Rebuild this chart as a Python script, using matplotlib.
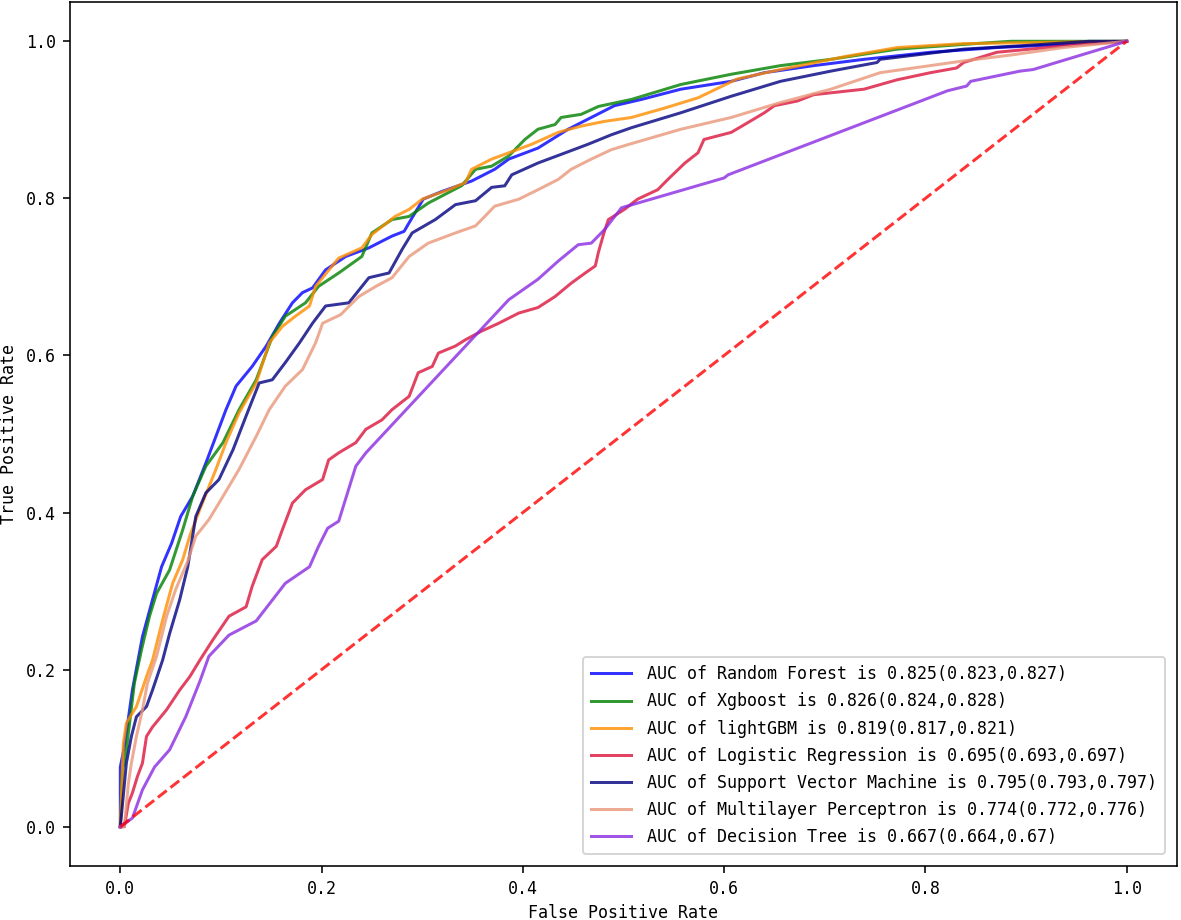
import matplotlib
matplotlib.use("Agg")
import matplotlib.pyplot as plt

# ROC points (false positive rate, true positive rate)
rf_fpr = [0, 0, 0.004, 0.012, 0.022, 0.032, 0.041, 0.051, 0.060, 0.072, 0.085, 0.095, 0.105, 0.115, 0.131,
          0.145, 0.158, 0.171, 0.181, 0.191, 0.204, 0.224, 0.247, 0.270, 0.282, 0.287, 0.301, 0.320, 0.349,
          0.372, 0.386, 0.415, 0.445, 0.468, 0.491, 0.518, 0.557, 0.607, 0.640, 0.689, 0.739, 0.805, 0.871,
          0.937, 0.980, 1.0]
rf_tpr = [0, 0.076, 0.102, 0.174, 0.242, 0.289, 0.331, 0.361, 0.395, 0.421, 0.463, 0.497, 0.531, 0.561, 0.586,
          0.612, 0.641, 0.667, 0.680, 0.686, 0.709, 0.726, 0.737, 0.752, 0.758, 0.769, 0.799, 0.809, 0.822,
          0.837, 0.850, 0.864, 0.888, 0.903, 0.918, 0.926, 0.939, 0.949, 0.960, 0.969, 0.977, 0.986, 0.992,
          0.996, 0.999, 1.0]

xgb_fpr = [0, 0.002, 0.006, 0.014, 0.021, 0.029, 0.036, 0.049, 0.062, 0.072, 0.085, 0.102, 0.118, 0.135,
           0.151, 0.164, 0.184, 0.197, 0.217, 0.240, 0.250, 0.270, 0.287, 0.306, 0.339, 0.353, 0.369, 0.386,
           0.402, 0.415, 0.432, 0.438, 0.458, 0.475, 0.508, 0.557, 0.607, 0.656, 0.706, 0.772, 0.838, 0.885, 1.0]
xgb_tpr = [0, 0.07, 0.098, 0.183, 0.225, 0.268, 0.297, 0.327, 0.378, 0.421, 0.459, 0.489, 0.531, 0.569,
           0.624, 0.650, 0.667, 0.688, 0.705, 0.726, 0.756, 0.773, 0.777, 0.794, 0.816, 0.837, 0.841, 0.854,
           0.875, 0.888, 0.894, 0.903, 0.907, 0.917, 0.926, 0.945, 0.958, 0.969, 0.977, 0.990, 0.996, 1.0, 1.0]

lgb_fpr = [0, 0.003, 0.006, 0.016, 0.026, 0.032, 0.042, 0.052, 0.062, 0.069, 0.079, 0.095, 0.105, 0.118,
           0.135, 0.148, 0.161, 0.174, 0.188, 0.194, 0.217, 0.240, 0.250, 0.273, 0.287, 0.300, 0.326, 0.343,
           0.349, 0.369, 0.386, 0.409, 0.435, 0.458, 0.481, 0.508, 0.541, 0.574, 0.613, 0.656, 0.722, 0.772,
           0.838, 0.937, 1.0]
lgb_tpr = [0, 0.106, 0.132, 0.153, 0.191, 0.212, 0.263, 0.310, 0.340, 0.370, 0.404, 0.455, 0.489, 0.527,
           0.565, 0.616, 0.637, 0.650, 0.663, 0.688, 0.724, 0.737, 0.754, 0.777, 0.786, 0.799, 0.811, 0.820,
           0.837, 0.850, 0.858, 0.869, 0.884, 0.892, 0.898, 0.903, 0.915, 0.928, 0.952, 0.964, 0.981, 0.992,
           0.997, 0.999, 1.0]

lr_fpr = [0, 0.004, 0.008, 0.012, 0.017, 0.022, 0.026, 0.032, 0.046, 0.059, 0.069, 0.079, 0.092, 0.108,
          0.125, 0.131, 0.141, 0.155, 0.161, 0.171, 0.184, 0.201, 0.207, 0.217, 0.234, 0.244, 0.260, 0.270,
          0.287, 0.296, 0.310, 0.316, 0.333, 0.343, 0.359, 0.376, 0.396, 0.415, 0.432, 0.448, 0.462, 0.472,
          0.475, 0.481, 0.485, 0.501, 0.514, 0.534, 0.544, 0.561, 0.574, 0.580, 0.607, 0.623, 0.640, 0.650,
          0.673, 0.689, 0.739, 0.772, 0.805, 0.831, 0.838, 0.871, 0.904, 0.954, 1.0]
lr_tpr = [0, 0, 0.030, 0.043, 0.064, 0.081, 0.115, 0.127, 0.149, 0.174, 0.191, 0.212, 0.238, 0.268,
          0.280, 0.306, 0.340, 0.357, 0.378, 0.412, 0.429, 0.442, 0.467, 0.476, 0.489, 0.506, 0.518, 0.531,
          0.548, 0.578, 0.586, 0.603, 0.612, 0.620, 0.631, 0.641, 0.654, 0.661, 0.675, 0.692, 0.705, 0.714,
          0.731, 0.758, 0.773, 0.786, 0.799, 0.811, 0.824, 0.845, 0.858, 0.875, 0.884, 0.896, 0.909, 0.918,
          0.924, 0.932, 0.939, 0.951, 0.960, 0.966, 0.973, 0.986, 0.990, 0.996, 1.0]

svm_fpr = [0, 0.003, 0.006, 0.011, 0.016, 0.026, 0.032, 0.042, 0.049, 0.059, 0.067, 0.075, 0.085, 0.098,
           0.112, 0.125, 0.138, 0.151, 0.164, 0.178, 0.191, 0.204, 0.227, 0.247, 0.267, 0.280, 0.290, 0.313,
           0.333, 0.353, 0.369, 0.382, 0.389, 0.415, 0.438, 0.465, 0.488, 0.508, 0.557, 0.607, 0.656, 0.706,
           0.752, 0.755, 0.838, 0.904, 0.963, 1.0]
svm_tpr = [0, 0.04, 0.081, 0.115, 0.140, 0.153, 0.174, 0.212, 0.246, 0.289, 0.331, 0.395, 0.425, 0.442,
           0.480, 0.523, 0.565, 0.569, 0.591, 0.616, 0.641, 0.663, 0.667, 0.699, 0.705, 0.735, 0.756, 0.773,
           0.792, 0.797, 0.814, 0.816, 0.830, 0.845, 0.856, 0.869, 0.881, 0.890, 0.909, 0.930, 0.949, 0.962,
           0.973, 0.977, 0.990, 0.995, 1.0, 1.0]

mlp_fpr = [0, 0.004, 0.008, 0.011, 0.016, 0.022, 0.027, 0.036, 0.046, 0.055, 0.067, 0.075, 0.088, 0.098,
           0.118, 0.135, 0.148, 0.164, 0.181, 0.194, 0.201, 0.219, 0.237, 0.254, 0.270, 0.287, 0.306, 0.333,
           0.353, 0.372, 0.396, 0.415, 0.435, 0.448, 0.468, 0.488, 0.506, 0.557, 0.607, 0.656, 0.706, 0.755,
           0.838, 0.888, 0.937, 1.0]
mlp_tpr = [0, 0, 0.055, 0.081, 0.115, 0.149, 0.183, 0.217, 0.268, 0.302, 0.338, 0.370, 0.391, 0.412,
           0.455, 0.497, 0.531, 0.561, 0.582, 0.616, 0.641, 0.652, 0.675, 0.688, 0.699, 0.726, 0.743, 0.756,
           0.765, 0.790, 0.799, 0.811, 0.824, 0.837, 0.850, 0.862, 0.869, 0.888, 0.903, 0.922, 0.939, 0.960,
           0.975, 0.983, 0.992, 1.0]

dt_fpr = [0, 0.012, 0.022, 0.034, 0.049, 0.065, 0.079, 0.088, 0.108, 0.135, 0.164, 0.188, 0.197, 0.206,
          0.217, 0.234, 0.244, 0.386, 0.415, 0.435, 0.455, 0.468, 0.481, 0.498, 0.600, 0.604, 0.822, 0.841,
          0.845, 0.894, 0.907, 1.0]
dt_tpr = [0, 0.011, 0.047, 0.076, 0.098, 0.140, 0.185, 0.217, 0.244, 0.262, 0.310, 0.331, 0.357, 0.380,
          0.389, 0.459, 0.476, 0.671, 0.697, 0.720, 0.741, 0.743, 0.760, 0.788, 0.826, 0.830, 0.937, 0.943,
          0.949, 0.962, 0.964, 1.0]

models = ["Random Forest", "Xgboost", "lightGBM", "Logistic Regression",
          "Support Vector Machine", "Multilayer Perceptron", "Decision Tree"]
auc = ["0.825", "0.826", "0.819", "0.695", "0.795", "0.774", "0.667"]
ci = ["(0.823,0.827)", "(0.824,0.828)", "(0.817,0.821)", "(0.693,0.697)",
      "(0.793,0.797)", "(0.772,0.776)", "(0.664,0.67)"]
colors = ["blue", "green", "darkorange", "crimson", "navy", "darksalmon", "blueviolet"]

curves = [(rf_fpr, rf_tpr), (xgb_fpr, xgb_tpr), (lgb_fpr, lgb_tpr), (lr_fpr, lr_tpr),
          (svm_fpr, svm_tpr), (mlp_fpr, mlp_tpr), (dt_fpr, dt_tpr)]

plt.rcParams["font.family"] = ["DejaVu Sans Mono"]
plt.rcParams["font.size"] = 8.3

fig = plt.figure(figsize=(1181 / 144, 920 / 144), dpi=144)
ax = fig.add_axes([70 / 1181, 54 / 920, 1107 / 1181, 864 / 920])

for (fpr, tpr), name, a, c, col in zip(curves, models, auc, ci, colors):
    ax.plot(fpr, tpr, color=col, alpha=0.8, lw=1.5,
            label=f"AUC of {name} is {a}{c}")

ax.plot([0, 1], [0, 1], color="red", alpha=0.8, lw=1.5, linestyle="--")

ax.set_xlabel("False Positive Rate", labelpad=3)
ax.set_ylabel("True Positive Rate", labelpad=4)
ax.tick_params(length=3.5, pad=3.5)
ax.legend(loc="lower right", handlelength=2.4, labelspacing=0.55, borderaxespad=0.7,
          handletextpad=0.95, borderpad=0.5)

fig.savefig("out.png", dpi=144)
